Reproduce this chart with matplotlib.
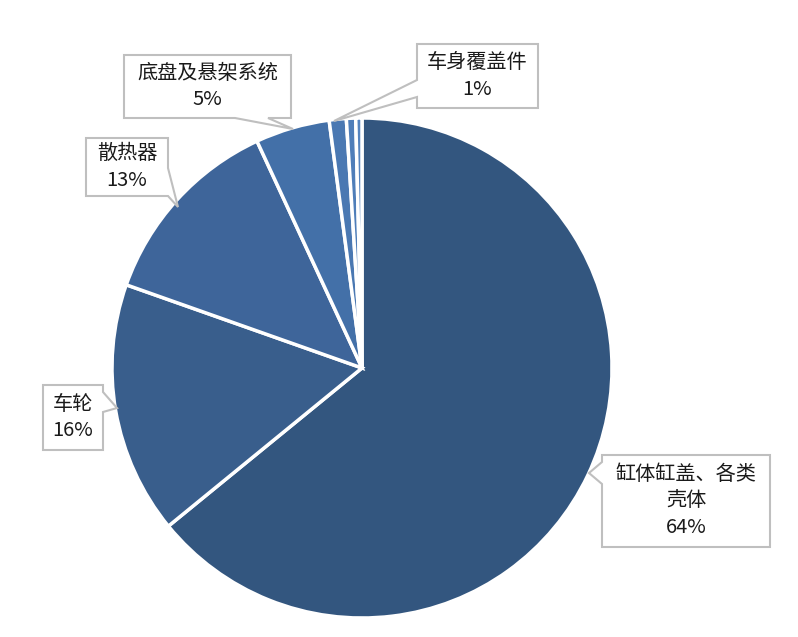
import matplotlib.pyplot as plt
from matplotlib.patches import Polygon

plt.rcParams['font.family'] = ['Noto Sans CJK SC', 'DejaVu Sans']

W, H = 798, 637

# share of each part (%), clockwise from 12 o'clock
parts = ["缸体缸盖、各类\n壳体", "车轮", "散热器", "底盘及悬架系统", "车身覆盖件", "其他1", "其他2"]
shares = [64.1, 16.3, 12.7, 4.8, 1.1, 0.6, 0.4]
pct_text = ["64%", "16%", "13%", "5%", "1%", None, None]
colors = ["#33567f", "#395e8c", "#3e659a", "#4370a8", "#4a78b2", "#4f7eb9", "#5584bf"]

# callout layout in pixel coords (y down): box, side of pointer, pointer base, tip
callouts = [
    ((602, 455, 770, 547), "left", (462, 484), (589, 473)),
    ((43, 385, 103, 450), "right", (392, 412), (117, 408)),
    ((86, 138, 168, 196), "right", (168, 196), (178, 207)),
    ((124, 55, 291, 118), "bottom", (235, 268), (293, 129)),
    ((417, 44, 538, 108), "left", (80, 97), (334, 121)),
]


def fy(y):
    return H - y


def callout_poly(box, side, base, tip):
    x0, y0, x1, y1 = box
    if side == "left":
        pts = [(x0, y0), (x1, y0), (x1, y1), (x0, y1), (x0, base[1]), tip, (x0, base[0])]
    elif side == "right":
        pts = [(x0, y0), (x1, y0), (x1, base[0]), tip, (x1, base[1]), (x1, y1), (x0, y1)]
    else:
        pts = [(x0, y0), (x1, y0), (x1, y1), (base[1], y1), tip, (base[0], y1), (x0, y1)]
    return [(px, fy(py)) for px, py in pts]


fig = plt.figure(figsize=(W / 100, H / 100), dpi=100)
ax = fig.add_axes([0, 0, 1, 1])

ax.pie(shares, colors=colors, startangle=90, counterclock=False,
       center=(362, fy(368)), radius=250,
       wedgeprops=dict(edgecolor="white", linewidth=2.5))

for i, (box, side, base, tip) in enumerate(callouts):
    ax.add_patch(Polygon(callout_poly(box, side, base, tip), closed=True,
                         facecolor="white", edgecolor="#bfbfbf", linewidth=1.5, zorder=3))
    x0, y0, x1, y1 = box
    ax.text((x0 + x1) / 2, fy((y0 + y1) / 2), parts[i] + "\n" + pct_text[i],
            ha="center", va="center", fontsize=14.5, color="#1a1a1a",
            linespacing=1.35, zorder=4)

ax.set_xlim(0, W)
ax.set_ylim(0, H)
ax.set_aspect("auto")
ax.axis("off")

fig.savefig("out.png", dpi=100, facecolor="white")
